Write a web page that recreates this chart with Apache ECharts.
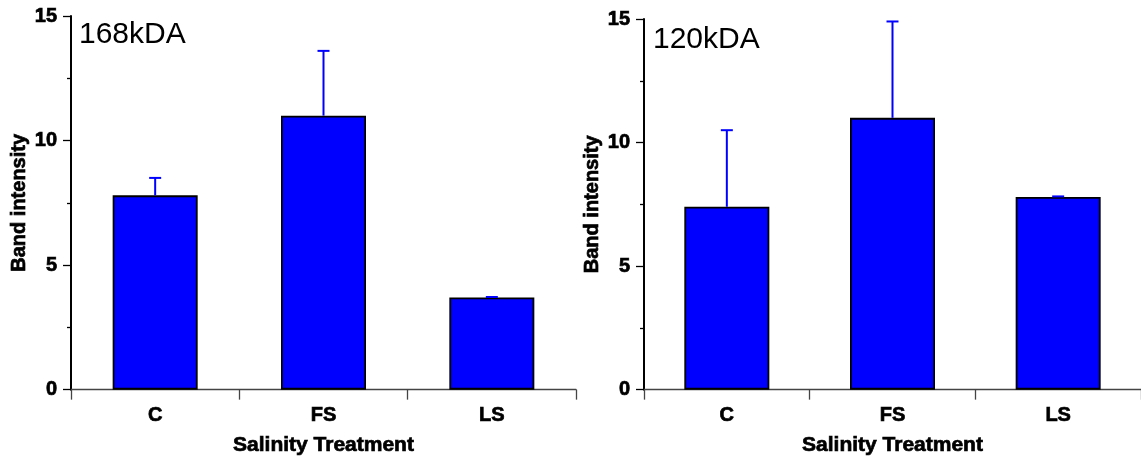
<!DOCTYPE html>
<html>
<head>
<meta charset="utf-8">
<script src="https://cdn.jsdelivr.net/npm/echarts@6/dist/echarts.min.js"></script>
<style>
  html, body { margin: 0; padding: 0; background: #fff; }
  #BandChart { width: 1141px; height: 461px; }
</style>
</head>
<body>
<div id="BandChart"></div>
<script>
// band intensity per salinity treatment, mean and top of error bar
const categories = ["C", "FS", "LS"];
const mean168 = [7.8, 11.0, 3.7];
const upper168 = [8.5, 13.6, 3.72];
const mean120 = [7.4, 11.0, 7.8];
const upper120 = [10.5, 14.9, 7.82];
const panelTitles = ["168kDA", "120kDA"];

const font = "'Liberation Sans', Arial, sans-serif";
const blue = "#0000ff";
// the figure's bold text is heavier than plain bold, a thin outline fakes that
const heavy = { fontFamily: font, fontWeight: "bold", color: "#000", textBorderColor: "#000", textBorderWidth: 0.7 };

function errorBar(params, api) {
  const i = api.value(0);
  const base = api.coord([i, api.value(1)]);
  const top = api.coord([i, api.value(2)]);
  const half = 6;
  const style = { stroke: blue, lineWidth: 2 };
  return {
    type: "group",
    children: [
      { type: "line", shape: { x1: base[0], y1: base[1], x2: top[0], y2: top[1] }, style: style },
      { type: "line", shape: { x1: top[0] - half, y1: top[1], x2: top[0] + half, y2: top[1] }, style: style },
    ],
  };
}

function makeX(idx) {
  return {
    type: "category",
    gridIndex: idx,
    data: categories,
    name: "Salinity Treatment",
    nameLocation: "middle",
    nameGap: 45,
    nameTextStyle: Object.assign({ fontSize: 21 }, heavy),
    axisLine: { lineStyle: { color: "#444", width: 1.3 } },
    axisTick: { show: true, length: 10, lineStyle: { color: "#444", width: 1.3 } },
    axisLabel: Object.assign({ margin: 16, fontSize: 20 }, heavy),
  };
}

function makeY(idx) {
  return {
    type: "value",
    gridIndex: idx,
    min: 0,
    max: 15,
    interval: 5,
    name: "Band intensity",
    nameLocation: "middle",
    nameGap: 42,
    nameTextStyle: Object.assign({ fontSize: 20 }, heavy),
    axisLine: { show: true, lineStyle: { color: "#000", width: 2 } },
    axisTick: { show: true, length: 8, lineStyle: { color: "#000", width: 1.3 } },
    minorTick: { show: true, splitNumber: 2, length: 4, lineStyle: { color: "#000", width: 1.3 } },
    splitLine: { show: false },
    axisLabel: Object.assign({ margin: 14, fontSize: 20 }, heavy),
  };
}

function barSeries(idx, values) {
  return {
    type: "bar",
    xAxisIndex: idx,
    yAxisIndex: idx,
    data: values,
    barWidth: 85,
    itemStyle: { color: blue, borderColor: "#000", borderWidth: 1.8 },
    z: 2,
  };
}

function errSeries(idx, means, uppers) {
  return {
    type: "custom",
    xAxisIndex: idx,
    yAxisIndex: idx,
    renderItem: errorBar,
    data: categories.map((c, i) => [i, means[i], uppers[i]]),
    z: 5,
  };
}

const chart = echarts.init(document.getElementById("BandChart"));
const option = {
  animation: false,
  backgroundColor: "#fff",
  title: [
    { text: panelTitles[0], left: 79, top: 20, padding: 0,
      textStyle: { fontFamily: font, fontWeight: "normal", fontSize: 30, color: "#000" } },
    { text: panelTitles[1], left: 653, top: 25, padding: 0,
      textStyle: { fontFamily: font, fontWeight: "normal", fontSize: 30, color: "#000" } },
  ],
  grid: [
    { left: 71, top: 16, width: 505, height: 376 },
    { left: 644, top: 19, width: 504, height: 375 },
  ],
  xAxis: [makeX(0), makeX(1)],
  yAxis: [makeY(0), makeY(1)],
  series: [
    barSeries(0, mean168),
    errSeries(0, mean168, upper168),
    barSeries(1, mean120),
    errSeries(1, mean120, upper120),
  ],
};
chart.setOption(option);
window.addEventListener("resize", chart.resize);
</script>
</body>
</html>
